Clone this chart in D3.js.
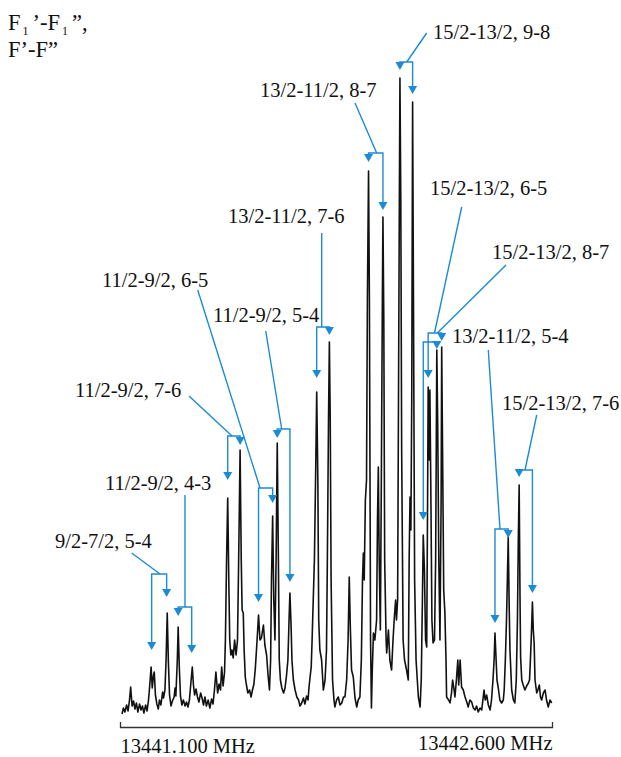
<!DOCTYPE html>
<html><head><meta charset="utf-8">
<script src="https://cdn.jsdelivr.net/npm/d3@7"></script>
<style>
body{margin:0;background:#fff}
svg{display:block}
text{font-family:"Liberation Serif","Times New Roman",serif;fill:#111}
</style>
</head><body>
<svg id="c" width="621" height="757"></svg>
<script>
// ---- spectrum trace: frequency offset from 13441.100 MHz (kHz) and intensity (arb. units)
const offsetKHz = [7,12,17,23,28,33,37,42,47,52,57,62,68,73,78,83,89,94,99,102,108,112,116,119,123,128,133,137,142,148,151,156,160,164,168,172,177,182,188,191,194,199,202,206,210,215,220,226,231,236,241,247,251,255,259,264,269,274,280,285,290,295,300,306,312,318,323,328,333,339,344,349,353,358,363,366,370,374,378,381,385,389,393,398,403,408,412,417,421,424,428,431,435,439,444,450,455,460,465,470,476,481,486,491,498,503,509,514,519,523,526,530,534,538,542,546,550,553,557,562,568,573,578,583,587,590,594,597,602,608,614,620,625,631,637,642,648,653,656,660,664,667,671,675,680,683,687,690,694,700,706,712,717,720,724,727,730,733,738,743,746,752,758,764,770,776,781,787,792,796,800,804,810,816,822,827,833,838,842,845,848,852,856,859,863,866,870,873,876,880,885,891,894,897,900,904,907,911,913,916,919,924,926,932,937,943,948,952,957,960,964,967,970,972,975,978,983,988,995,1001,1004,1007,1010,1013,1016,1019,1023,1028,1036,1042,1046,1050,1053,1057,1061,1065,1068,1070,1074,1076,1079,1083,1087,1092,1096,1100,1103,1107,1111,1115,1117,1120,1124,1128,1132,1134,1141,1146,1151,1155,1160,1163,1168,1173,1176,1181,1186,1192,1198,1204,1209,1215,1221,1227,1233,1238,1244,1250,1256,1260,1264,1268,1273,1279,1285,1290,1295,1299,1302,1306,1309,1313,1319,1325,1331,1334,1338,1342,1345,1348,1351,1354,1360,1366,1371,1376,1380,1383,1386,1389,1391,1395,1400,1406,1412,1418,1422,1425,1429,1432,1435,1438,1441,1447,1451,1456,1460,1464,1470,1476,1481,1487,1493,1499];
const intensity = [6,12,8,15,9,20,33,14,19,11,17,8,16,10,14,7,15,9,20,30,53,32,44,48,25,16,11,20,15,28,22,30,60,107,58,25,14,19,23,32,24,60,93,52,24,15,20,14,18,13,20,40,53,35,25,31,23,18,27,22,15,23,14,20,12,21,16,30,48,27,36,30,53,34,48,80,160,222,135,80,65,70,62,80,65,80,160,270,160,110,107,70,43,35,27,30,23,30,36,52,80,105,80,82,95,75,65,45,30,60,140,204,120,80,160,277,160,60,40,32,27,32,44,60,100,127,95,60,40,30,23,20,14,17,22,16,24,20,32,43,53,80,120,160,260,328,240,100,70,60,30,40,70,160,300,378,300,140,40,20,13,20,23,15,17,23,23,40,80,143,90,50,43,22,13,20,23,60,140,167,140,220,240,420,549,420,80,12,50,87,80,100,200,253,160,90,220,420,503,400,160,80,67,90,60,50,80,100,120,100,120,320,520,642,520,270,80,60,50,40,160,223,190,320,618,420,140,60,23,13,40,120,185,150,80,73,220,333,260,330,240,100,77,80,160,370,300,160,80,220,373,270,130,108,60,23,20,17,27,40,30,23,40,60,35,60,33,30,23,18,13,20,18,12,10,14,8,12,10,20,30,20,25,15,10,20,40,60,87,60,40,33,20,17,20,30,60,100,140,183,120,70,30,20,17,40,100,180,235,120,63,40,35,30,34,37,40,60,90,118,90,77,40,27,30,35,23,20,27,30,20,13,20,17];

// ---- axis
const axisKHz = [0, 1500];
const axisLabels = ["13441.100 MHz", "13442.600 MHz"];

// ---- assignments F1'-F1'', F'-F'' and the two Doppler components (kHz offset)
const labels = ["9/2-7/2, 5-4","11/2-9/2, 4-3","11/2-9/2, 7-6","11/2-9/2, 6-5","11/2-9/2, 5-4",
  "13/2-11/2, 7-6","13/2-11/2, 8-7","15/2-13/2, 9-8","15/2-13/2, 6-5","15/2-13/2, 8-7",
  "13/2-11/2, 5-4","15/2-13/2, 7-6"];
const pairKHz = [[110,162],[202,249],[374,417],[481,530],[546,590],[683,727],[863,913],
  [972,1016],[1053,1100],[1070,1117],[1302,1348],[1386,1432]];

// ---- annotation layout (pixels)
const layout = [
  {tx:55,  ty:548, lead:[131.7,553,160,574],   bar:574, tips:[650,597]},
  {tx:105, ty:490, lead:[185,495,185,607],     bar:607, tips:[616,653]},
  {tx:75,  ty:397, lead:[189,396,232,436],     bar:436, tips:[480,445]},
  {tx:102, ty:287, lead:[197.7,290,260,488],   bar:488, tips:[602,503]},
  {tx:213, ty:322, lead:[265.7,331,281.7,429], bar:429, tips:[438,582]},
  {tx:228, ty:223, lead:[321.7,233,321.7,327], bar:327, tips:[378,335]},
  {tx:260, ty:97,  lead:[355,103,376.7,153],   bar:153, tips:[162,210]},
  {tx:433, ty:39,  lead:[426.7,33,406.7,62],   bar:62,  tips:[70,94]},
  {tx:430, ty:195, lead:[461.7,207,434.5,333], bar:342, tips:[520,349]},
  {tx:492, ty:259, lead:[506,265,437.3,333],   bar:333, tips:[378,341]},
  {tx:452, ty:343, lead:[488.3,350,500,529],   bar:529, tips:[623,538]},
  {tx:502, ty:410, lead:[536.7,415,525,470],   bar:470, tips:[477,593]}
];

const svg = d3.select("#c");
const x = d3.scaleLinear().domain(axisKHz).range([120, 552]);
const y = d3.scaleLinear().domain([0, 650]).range([720, 70]);

// spectrum
const pts = offsetKHz.map((f,i)=>[f, intensity[i]]);
svg.append("path")
  .attr("d", d3.line().x(d=>x(d[0])).y(d=>y(d[1]))(pts))
  .attr("fill","none").attr("stroke","#111").attr("stroke-width",1.6)
  .attr("stroke-linejoin","round");

// axis bracket
const gAx = svg.append("g").attr("transform","translate(0,727)")
  .call(d3.axisBottom(x).tickValues(axisKHz).tickFormat((d,i)=>axisLabels[i])
    .tickSizeInner(0).tickSizeOuter(-5).tickPadding(0));
gAx.select(".domain").attr("stroke","#333").attr("stroke-width",1.3);
gAx.selectAll(".tick line").remove();
gAx.selectAll(".tick text")
  .attr("font-family","'Liberation Serif','Times New Roman',serif")
  .attr("font-size","20.5px").attr("fill","#111")
  .attr("dy",null)
  .attr("y",(d,i)=> i===0 ? 26 : 23)
  .attr("text-anchor",(d,i)=> i===0 ? "start" : "end");

// annotations
const blue = "#1b8bd3";
const ga = svg.append("g");
labels.forEach((lab,i)=>{
  const L = layout[i];
  const [f1,f2] = pairKHz[i];
  const x1 = x(f1), x2 = x(f2);
  ga.append("text").attr("x",L.tx).attr("y",L.ty).attr("font-size","20.5px").text(lab);
  ga.append("line").attr("x1",L.lead[0]).attr("y1",L.lead[1]).attr("x2",L.lead[2]).attr("y2",L.lead[3])
    .attr("stroke",blue).attr("stroke-width",1.4);
  ga.append("path").attr("d",`M${x1},${L.tips[0]-6}V${L.bar}H${x2}V${L.tips[1]-6}`)
    .attr("fill","none").attr("stroke",blue).attr("stroke-width",1.4);
  [[x1,L.tips[0]],[x2,L.tips[1]]].forEach(([ax,ay])=>{
    ga.append("path").attr("d",`M${ax-4.5},${ay-8}L${ax+4.5},${ay-8}L${ax},${ay}Z`).attr("fill",blue);
  });
});

// title
const t1 = svg.append("text").attr("x",8).attr("y",30).attr("font-size","22.5px").attr("fill","#000");
t1.append("tspan").text("F");
t1.append("tspan").attr("font-size","12px").attr("dx",2).attr("dy",5).text("1");
t1.append("tspan").attr("dx",4).attr("dy",-5).text("\u2019-F");
t1.append("tspan").attr("font-size","12px").attr("dx",2).attr("dy",5).text("1");
t1.append("tspan").attr("dx",4).attr("dy",-5).text("\u201D,");
svg.append("text").attr("x",8).attr("y",57).attr("font-size","22.5px").attr("fill","#000").text("F\u2019-F\u201D");
</script>
</body></html>
